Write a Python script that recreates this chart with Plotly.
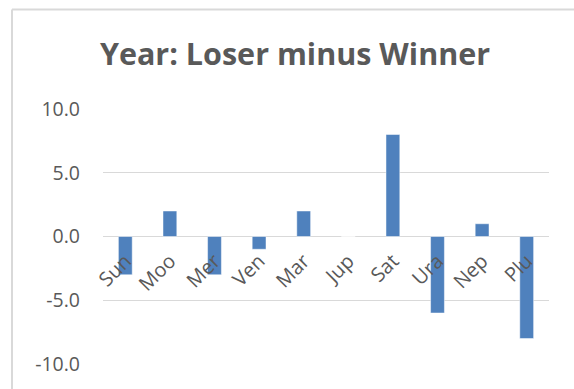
import plotly.graph_objects as go

# Planet categories and loser-minus-winner differences
planets = ["Sun", "Moo", "Mer", "Ven", "Mar", "Jup", "Sat", "Ura", "Nep", "Plu"]
differences = [-3, 2, -3, -1, 2, 0, 8, -6, 1, -8]
y_ticks = [-10, -5, 0, 5, 10]
y_tick_text = [f"{v:.1f}" for v in y_ticks]  # plain hyphen for negatives

W, H = 574, 389
L, R, T, B = 103, 25, 109, 25
plot_w = W - L - R
plot_h = H - T - B

def px_x(px):
    return (px - L) / plot_w

def px_y(py):
    return (H - B - py) / plot_h

text_color = "#595959"
grid_color = "#d9d9d9"
font_family = "Open Sans, Lato, Liberation Sans, sans-serif"

fig = go.Figure(
    go.Bar(
        x=planets,
        y=differences,
        marker=dict(color="#4f81bd", line=dict(color="rgba(255,255,255,0.6)", width=0.8)),
        hoverinfo="x+y",
    )
)

fig.update_layout(
    width=W,
    height=H,
    margin=dict(l=L, r=R, t=T, b=B),
    paper_bgcolor="white",
    plot_bgcolor="white",
    bargap=0.69,
    showlegend=False,
    font=dict(family=font_family, color=text_color),
    title=dict(
        text="<b>Year: Loser minus Winner</b>",
        xref="container",
        yref="container",
        x=295 / W,
        xanchor="center",
        y=1 - 54 / H,
        yanchor="middle",
        font=dict(size=30.5, color=text_color, family=font_family),
    ),
    xaxis=dict(
        anchor="free",
        position=0.5,
        showgrid=False,
        showline=False,
        zeroline=False,
        ticks="",
        tickangle=-45,
        ticklabelstandoff=8,
        tickfont=dict(size=20, color=text_color),
    ),
    yaxis=dict(
        range=[-10, 10],
        tickvals=y_ticks,
        ticktext=y_tick_text,
        showgrid=True,
        gridcolor=grid_color,
        gridwidth=1.3,
        zeroline=True,
        zerolinecolor=grid_color,
        zerolinewidth=1.3,
        showline=False,
        ticks="",
        ticklabelstandoff=22,
        tickfont=dict(size=19.5, color=text_color),
    ),
    shapes=[
        # chart frame: left and top edges
        dict(type="line", xref="paper", yref="paper",
             x0=px_x(12), x1=px_x(12), y0=px_y(9.5), y1=px_y(H + 2),
             line=dict(color=grid_color, width=2)),
        dict(type="line", xref="paper", yref="paper",
             x0=px_x(12), x1=px_x(W + 2), y0=px_y(9.5), y1=px_y(9.5),
             line=dict(color=grid_color, width=2)),
    ],
)

fig.write_html("out.html")
